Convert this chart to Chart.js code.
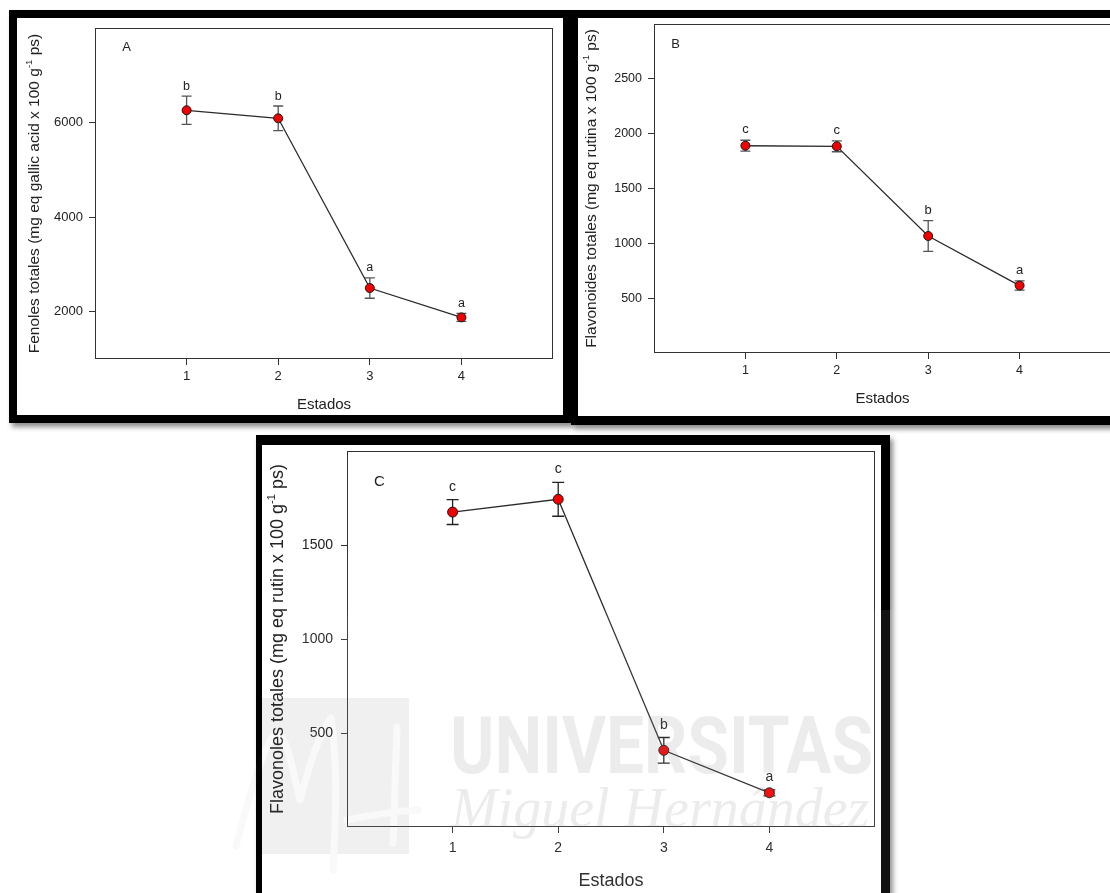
<!DOCTYPE html>
<html lang="es">
<head>
<meta charset="utf-8">
<title>Fenoles, flavonoides y flavonoles totales por estado</title>
<script src="https://cdn.jsdelivr.net/npm/chart.js@4.4.1/dist/chart.umd.min.js"></script>
<style>
  html, body { margin: 0; padding: 0; background: #fff; }
  body { width: 1110px; height: 893px; overflow: hidden; position: relative; }
  .frame { position: absolute; box-sizing: border-box; border-style: solid; border-color: #000; background: #fff;
           box-shadow: 3px 4px 5px rgba(0, 0, 0, 0.45); }
  #frameA { left: 9px;   top: 10px;  width: 562px; height: 413px; border-width: 8px; }
  #frameB { left: 571px; top: 10px;  width: 570px; height: 415px; border-width: 8px 8px 9px 7px; }
  #frameC { left: 256px; top: 435px; width: 634px; height: 468px; border-width: 10px 9px 10px 6px; }
  canvas.plot { position: absolute; }
  #panelA { left: 17px;  top: 18px; }
  #panelB { left: 578px; top: 18px; }
  #panelC { left: 262px; top: 445px; }
  #marca { position: absolute; left: 0; top: 0; pointer-events: none; }
</style>
</head>
<body>
<div class="frame" id="frameA"></div>
<div class="frame" id="frameB"></div>
<div class="frame" id="frameC"></div>
<canvas class="plot" id="panelA" width="546" height="397"></canvas>
<canvas class="plot" id="panelB" width="547" height="398"></canvas>
<canvas class="plot" id="panelC" width="619" height="448"></canvas>
<canvas id="marca" width="1110" height="893"></canvas>

<script>
// ---- data -------------------------------------------------------------
const estados = [1, 2, 3, 4];
const estadoTicks = [1, 2, 3, 4];

// A: fenoles totales (mg eq gallic acid x 100 g-1 ps)
const fenolesMedia  = [6260, 6090, 2500, 1880];
const fenolesError  = [300, 260, 215, 85];
const fenolesLetras = ['b', 'b', 'a', 'a'];
const fenolesTicks  = [2000, 4000, 6000];

// B: flavonoides totales (mg eq rutina x 100 g-1 ps)
const flavonoidesMedia  = [1890, 1885, 1067, 615];
const flavonoidesError  = [50, 50, 140, 42];
const flavonoidesLetras = ['c', 'c', 'b', 'a'];
const flavonoidesTicks  = [500, 1000, 1500, 2000, 2500];

// C: flavonoles totales (mg eq rutin x 100 g-1 ps)
const flavonolesMedia  = [1675, 1743, 408, 182];
const flavonolesError  = [66, 90, 68, 16];
const flavonolesLetras = ['c', 'c', 'b', 'a'];
const flavonolesTicks  = [500, 1000, 1500];

// ---- shared drawing helpers ------------------------------------------
const FAMILY = "'Liberation Sans', Arial, Helvetica, sans-serif";
Chart.defaults.font.family = FAMILY;

// error bars behind the markers, significance letters above them
const errorBarsPlugin = {
  id: 'errorBars',
  beforeDatasetsDraw(chart, args, o) {
    const { ctx, scales: { x, y } } = chart;
    const pts = chart.data.datasets[0].data;
    ctx.save();
    ctx.strokeStyle = o.color;
    ctx.lineWidth = 1.3;
    pts.forEach((p, i) => {
      const px = x.getPixelForValue(p.x);
      const top = y.getPixelForValue(p.y + o.err[i]);
      const bot = y.getPixelForValue(p.y - o.err[i]);
      ctx.beginPath();
      ctx.moveTo(px, top); ctx.lineTo(px, bot);
      ctx.moveTo(px - o.cap, top); ctx.lineTo(px + o.cap, top);
      ctx.moveTo(px - o.cap, bot); ctx.lineTo(px + o.cap, bot);
      ctx.stroke();
    });
    ctx.restore();
  },
  afterDatasetsDraw(chart, args, o) {
    const { ctx, scales: { x, y } } = chart;
    const pts = chart.data.datasets[0].data;
    ctx.save();
    ctx.fillStyle = '#222';
    ctx.font = o.letterSize + 'px ' + FAMILY;
    ctx.textAlign = 'center';
    ctx.textBaseline = 'alphabetic';
    pts.forEach((p, i) => {
      const px = x.getPixelForValue(p.x);
      const top = y.getPixelForValue(p.y + o.err[i]);
      ctx.fillText(o.letters[i], px, top - o.letterGap);
    });
    ctx.restore();
  }
};

// closed box around the plotting area
const plotBoxPlugin = {
  id: 'plotBox',
  afterDatasetsDraw(chart) {
    const { ctx, chartArea: a } = chart;
    const l = Math.round(a.left) + 0.5, t = Math.round(a.top) + 0.5;
    const r = Math.round(a.right) - 0.5, b = Math.round(a.bottom) - 0.5;
    ctx.save();
    ctx.strokeStyle = '#333';
    ctx.lineWidth = 1;
    ctx.strokeRect(l, t, r - l, b - t);
    ctx.restore();
  }
};

// rotated y-axis title with a superscript exponent
const yTitlePlugin = {
  id: 'yTitle',
  afterDraw(chart, args, o) {
    const { ctx, chartArea: a } = chart;
    const cy = (a.top + a.bottom) / 2;
    const mainFont = o.size + 'px ' + FAMILY;
    const supFont = (o.size * 0.62) + 'px ' + FAMILY;
    ctx.save();
    ctx.font = mainFont;
    const w1 = ctx.measureText(o.before).width;
    const w3 = ctx.measureText(o.after).width;
    ctx.font = supFont;
    const w2 = ctx.measureText(o.sup).width;
    ctx.translate(o.baseline, cy);
    ctx.rotate(-Math.PI / 2);
    ctx.fillStyle = '#222';
    ctx.textBaseline = 'alphabetic';
    ctx.textAlign = 'left';
    let sx = -(w1 + w2 + w3) / 2;
    ctx.font = mainFont;
    ctx.fillText(o.before, sx, 0);
    sx += w1;
    ctx.font = supFont;
    ctx.fillText(o.sup, sx, -o.size * 0.42);
    sx += w2;
    ctx.font = mainFont;
    ctx.fillText(o.after, sx, 0);
    ctx.restore();
  }
};

// panel letter in the upper-left corner of the plot
const panelTagPlugin = {
  id: 'panelTag',
  afterDraw(chart, args, o) {
    const { ctx, chartArea: a } = chart;
    ctx.save();
    ctx.fillStyle = '#222';
    ctx.font = o.size + 'px ' + FAMILY;
    ctx.textAlign = 'center';
    ctx.textBaseline = 'middle';
    ctx.fillText(o.text, a.left + o.dx, a.top + o.dy);
    ctx.restore();
  }
};

function buildPanel(p) {
  const points = estados.map((e, i) => ({ x: e, y: p.mean[i] }));
  const tickGrid = { drawOnChartArea: false, drawTicks: true, tickLength: 6, color: '#333', lineWidth: 1 };
  return new Chart(document.getElementById(p.canvasId), {
    type: 'line',
    data: {
      datasets: [{
        label: p.name,
        data: points,
        borderColor: '#2b2b2b',
        borderWidth: 1.3,
        pointRadius: p.radius,
        pointHoverRadius: p.radius,
        pointBackgroundColor: '#f00000',
        pointBorderColor: '#1a1a1a',
        pointBorderWidth: 1,
        tension: 0,
        fill: false
      }]
    },
    options: {
      responsive: false,
      animation: false,
      devicePixelRatio: 1,
      events: [],
      layout: { padding: { top: p.padTop, right: p.padRight, bottom: 0, left: 0 } },
      plugins: {
        legend: { display: false },
        tooltip: { enabled: false },
        errorBars: { err: p.err, letters: p.letters, cap: p.cap, color: p.barColor,
                     letterSize: p.letterSize, letterGap: p.letterGap },
        yTitle: { before: p.titleBefore, sup: '-1', after: ' ps)', size: p.titleSize, baseline: p.titleBaseline },
        panelTag: { text: p.tag, size: p.tagSize, dx: p.tagDx, dy: p.tagDy }
      },
      scales: {
        x: {
          type: 'linear', min: 0, max: 5,
          afterBuildTicks: s => { s.ticks = estadoTicks.map(v => ({ value: v })); },
          afterFit: s => { s.height = p.xAxisHeight; s.paddingLeft = 0; s.paddingRight = 0; },
          grid: tickGrid,
          border: { display: false },
          ticks: { color: '#222', font: { size: p.tickSize }, padding: p.xTickPad, maxRotation: 0,
                   callback: v => String(v) },
          title: { display: true, text: 'Estados', color: '#222', font: { size: p.xTitleSize },
                   padding: { top: 0, bottom: p.xTitlePad } }
        },
        y: {
          type: 'linear', min: p.yMin, max: p.yMax,
          afterBuildTicks: s => { s.ticks = p.yTicks.map(v => ({ value: v })); },
          afterFit: s => { s.width = p.yAxisWidth; s.paddingTop = 0; s.paddingBottom = 0; },
          grid: tickGrid,
          border: { display: false },
          ticks: { color: '#222', font: { size: p.tickSize }, padding: p.yTickPad,
                   callback: v => String(v) }
        }
      }
    },
    plugins: [errorBarsPlugin, plotBoxPlugin, yTitlePlugin, panelTagPlugin]
  });
}

buildPanel({
  canvasId: 'panelA', name: 'Fenoles totales', tag: 'A',
  mean: fenolesMedia, err: fenolesError, letters: fenolesLetras, yTicks: fenolesTicks,
  yMin: 1000, yMax: 8000,
  padTop: 10, padRight: 10, yAxisWidth: 78, xAxisHeight: 56,
  tickSize: 13, xTickPad: 4, yTickPad: 6, xTitleSize: 15, xTitlePad: 1,
  titleBefore: 'Fenoles totales (mg eq gallic acid x 100 g', titleSize: 15.5, titleBaseline: 21.5,
  tagSize: 13, tagDx: 31.5, tagDy: 19.5,
  radius: 4.5, cap: 5, barColor: '#555', letterSize: 12.5, letterGap: 6.5
});

buildPanel({
  canvasId: 'panelB', name: 'Flavonoides totales', tag: 'B',
  mean: flavonoidesMedia, err: flavonoidesError, letters: flavonoidesLetras, yTicks: flavonoidesTicks,
  yMin: 0, yMax: 3000,
  padTop: 6, padRight: 14, yAxisWidth: 76, xAxisHeight: 63,
  tickSize: 12.5, xTickPad: 4, yTickPad: 6, xTitleSize: 15, xTitlePad: 8,
  titleBefore: 'Flavonoides totales (mg eq rutina x 100 g', titleSize: 15.5, titleBaseline: 18,
  tagSize: 13, tagDx: 21.5, tagDy: 20.5,
  radius: 4.5, cap: 5, barColor: '#555', letterSize: 13, letterGap: 7
});

buildPanel({
  canvasId: 'panelC', name: 'Flavonoles totales', tag: 'C',
  mean: flavonolesMedia, err: flavonolesError, letters: flavonolesLetras, yTicks: flavonolesTicks,
  yMin: 0, yMax: 2000,
  padTop: 1, padRight: 2, yAxisWidth: 85, xAxisHeight: 66,
  tickSize: 14, xTickPad: 7, yTickPad: 8, xTitleSize: 18, xTitlePad: 1.5,
  titleBefore: 'Flavonoles totales (mg eq rutin x 100 g', titleSize: 18, titleBaseline: 21,
  tagSize: 15, tagDx: 32.5, tagDy: 30.5,
  radius: 5, cap: 6, barColor: '#222', letterSize: 14, letterGap: 9
});

// ---- university watermark over the lower panel --------------------------
(function drawMarca() {
  const ctx = document.getElementById('marca').getContext('2d');
  const ink = 'rgba(110, 110, 110, 0.13)';

  // faint veil over the lower part of the page
  ctx.fillStyle = 'rgba(255, 255, 255, 0.07)';
  ctx.fillRect(300, 610, 605, 283);

  // logo block with the stylised initials cut out
  ctx.fillStyle = 'rgba(110, 110, 110, 0.10)';
  ctx.fillRect(262, 698, 147, 156);
  const strokes = new Path2D();
  strokes.moveTo(236, 846);
  strokes.bezierCurveTo(248, 800, 262, 752, 272, 738);
  strokes.bezierCurveTo(286, 722, 292, 770, 300, 800);
  strokes.bezierCurveTo(308, 770, 318, 735, 331, 718);
  strokes.moveTo(331, 718);
  strokes.bezierCurveTo(338, 760, 336, 820, 333, 870);
  strokes.moveTo(397, 727);
  strokes.lineTo(393, 843);
  strokes.moveTo(347, 820);
  strokes.quadraticCurveTo(385, 812, 418, 810);
  ctx.lineCap = 'round';
  ctx.lineJoin = 'round';
  ctx.lineWidth = 7;
  ctx.globalCompositeOperation = 'destination-out';
  ctx.strokeStyle = '#000';
  ctx.stroke(strokes);
  ctx.globalCompositeOperation = 'source-over';
  ctx.strokeStyle = 'rgba(110, 110, 110, 0.04)';
  ctx.stroke(strokes);

  ctx.fillStyle = ink;
  ctx.textAlign = 'left';
  ctx.textBaseline = 'alphabetic';
  ctx.font = "bold 80px Roboto, 'Liberation Sans', sans-serif";
  ctx.fillText('UNIVERSITAS', 450, 773, 423);
  ctx.font = "italic 56px 'Liberation Serif', 'DejaVu Serif', serif";
  ctx.fillText('Miguel Hernández', 451, 827, 421);
})();
</script>
</body>
</html>
